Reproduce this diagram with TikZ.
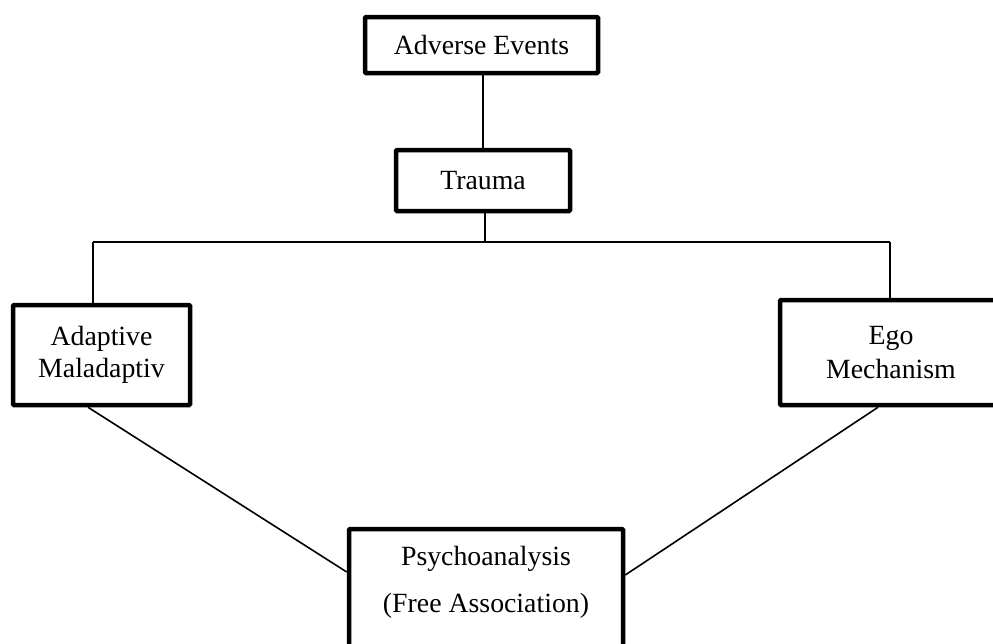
\documentclass[tikz,border=0pt]{standalone}
\usepackage{fontspec}
\setmainfont{Liberation Serif}
\begin{document}
\begin{tikzpicture}[x=1pt,y=-1pt,
  box/.style={draw=black, line width=4.5pt, rounded corners=1pt, fill=white, align=center, inner sep=0pt,
    font=\fontsize{27.8}{32}\selectfont},
  txt/.style={align=center, inner sep=0pt},
  conn/.style={line width=1.6pt, black}]
\useasboundingbox (0,0) rectangle (993,643);
\clip (0,0) rectangle (993,643);
\node[box, minimum width=233pt, minimum height=56pt] (adv) at (481.5,45) {Adverse Events};
\node[box, minimum width=174pt, minimum height=61pt] (trauma) at (483,180.5) {Trauma};
\node[box, minimum width=177pt, minimum height=100pt] (adapt) at (101.5,355) {Adaptive\\Maladaptiv};
\node[box, minimum width=222pt, minimum height=105pt, font=\fontsize{27.8}{34}\selectfont] (ego) at (891,352.5) {Ego\\Mechanism};
\node[box, minimum width=274pt, minimum height=140pt] (psy) at (486,599) {};
\node[txt, font=\fontsize{27.8}{47}\selectfont] (psytext) at (486,582) {Psychoanalysis\\(Free Association)};
\coordinate (hl) at (93,242);
\coordinate (hr) at (890,242);
\draw[conn] (trauma.north |- adv.south) -- (trauma.north);
\draw[conn] ([xshift=2pt]trauma.south) -- ([xshift=2pt]trauma.south |- hl);
\draw[conn] (hl) -- (hr);
\draw[conn] (hl) -- (hl |- adapt.north);
\draw[conn] (hr) -- (hr |- ego.north);
\draw[conn] ([xshift=-13.5pt]adapt.south) -- (psy.west |- 0,572);
\draw[conn] ([xshift=-13pt]ego.south) -- (psy.east |- 0,575);
\end{tikzpicture}
\end{document}
